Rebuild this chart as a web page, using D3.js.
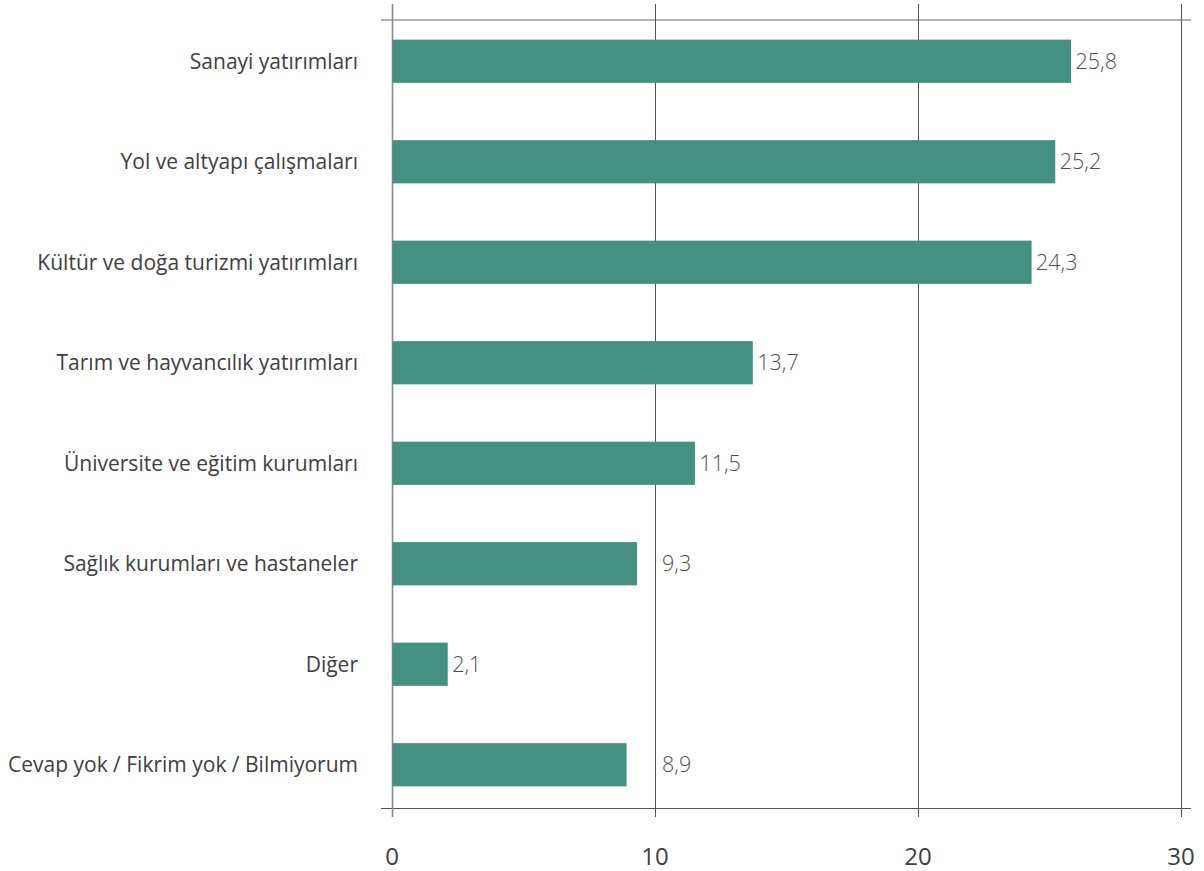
<!DOCTYPE html>
<html><head><meta charset="utf-8">
<script src="https://cdn.jsdelivr.net/npm/d3@7"></script>
<style>body{margin:0;background:#fff}svg{display:block}</style>
</head><body>
<script>
const categories = ["Sanayi yatırımları","Yol ve altyapı çalışmaları","Kültür ve doğa turizmi yatırımları","Tarım ve hayvancılık yatırımları","Üniversite ve eğitim kurumları","Sağlık kurumları ve hastaneler","Diğer","Cevap yok / Fikrim yok / Bilmiyorum"];
const values = [25.8, 25.2, 24.3, 13.7, 11.5, 9.3, 2.1, 8.9];
const valueLabels = ["25,8","25,2","24,3","13,7","11,5","9,3","2,1","8,9"];
const ticks = [0, 10, 20, 30];

const W = 1204, H = 871;
const svg = d3.select("body").append("svg").attr("width", W).attr("height", H);
const font = "'Open Sans', sans-serif";

const x = d3.scaleLinear().domain([0, 30]).range([392, 1181]);
const y = d3.scaleBand().domain(categories).range([11, 815]).paddingInner(0.57).paddingOuter(0.285);

// top and bottom lines
svg.append("line").attr("x1", 381).attr("x2", 1191).attr("y1", 20).attr("y2", 20)
  .attr("stroke", "#9a9a9a").attr("stroke-width", 1.3);
svg.append("line").attr("x1", 381).attr("x2", 1191).attr("y1", 808.5).attr("y2", 808.5)
  .attr("stroke", "#555").attr("stroke-width", 1.2);

// gridlines
svg.selectAll("line.grid").data(ticks).join("line").attr("class", "grid")
  .attr("x1", d => Math.round(x(d)) + 0.5).attr("x2", d => Math.round(x(d)) + 0.5)
  .attr("y1", 4).attr("y2", 817)
  .attr("stroke", d => d === 0 ? "#8a8a8a" : "#555").attr("stroke-width", d => d === 0 ? 1.6 : 1);

// bars
svg.selectAll("rect.bar").data(values).join("rect").attr("class", "bar")
  .attr("x", x(0) + 0.5).attr("y", (d, i) => y(categories[i]))
  .attr("width", d => x(d) - x(0)).attr("height", y.bandwidth())
  .attr("fill", "#449181");

// value labels
const gridPx = ticks.map(t => x(t));
svg.selectAll("text.val").data(values).join("text").attr("class", "val")
  .attr("x", d => {
    let lx = x(d) + 5;
    const w = 44;
    gridPx.forEach(g => { if (g > lx - 2 && g < lx + w) lx = g + 7; });
    return lx;
  })
  .attr("y", (d, i) => y(categories[i]) + y.bandwidth() / 2)
  .attr("dy", "0.36em")
  .attr("font-family", font).attr("font-size", 21.5).attr("font-weight", 300).attr("fill", "#505050")
  .text((d, i) => valueLabels[i]);

// category labels
svg.selectAll("text.cat").data(categories).join("text").attr("class", "cat")
  .attr("x", 358).attr("y", d => y(d) + y.bandwidth() / 2).attr("dy", "0.36em")
  .attr("text-anchor", "end").attr("font-family", font).attr("font-size", 21).attr("fill", "#404040")
  .text(d => d);

// x tick labels
svg.selectAll("text.tick").data(ticks).join("text").attr("class", "tick")
  .attr("x", d => x(d)).attr("y", 865).attr("text-anchor", "middle")
  .attr("font-family", font).attr("font-size", 24).attr("fill", "#404040")
  .text(d => d);
</script>
</body></html>
